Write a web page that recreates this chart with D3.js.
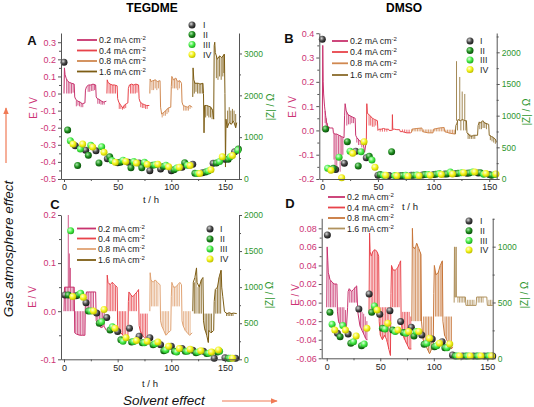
<!DOCTYPE html>
<html><head><meta charset="utf-8">
<script src="https://cdn.jsdelivr.net/npm/d3@7"></script>
<style>body{margin:0;background:#fff} svg{display:block;font-family:"Liberation Sans",Arial,sans-serif}</style>
</head><body><svg id="c" width="534" height="407"></svg>
<script>
// ---------------- DATA ----------------
const CURRENTS = ["0.2", "0.4", "0.8", "1.6"];
const SERIES = ["I", "II", "III", "IV"];
const T_TICKS = [0, 50, 100, 150];
const A_E_TICKS = [-0.5, -0.4, -0.3, -0.2, -0.1, 0, 0.1, 0.2, 0.3];
const A_Z_TICKS = [0, 1000, 2000, 3000];
const B_E_TICKS = [-0.2, -0.1, 0, 0.1, 0.2, 0.3, 0.4];
const B_Z_TICKS = [0, 500, 1000, 1500, 2000];
const C_E_TICKS = [-0.1, 0, 0.1, 0.2];
const C_Z_TICKS = [0, 500, 1000, 1500, 2000];
const D_E_TICKS = [-0.06, -0.04, -0.02, 0, 0.02, 0.04, 0.06, 0.08];
const D_Z_TICKS = [0, 500, 1000];

// Panel A (TEGDME) potential [t, E]; spikes [t, from, to]
const A02 = [[0,0.0],[0.4,0.15],[1,0.11],[2,0.09],[3,0.075],[5,0.065],[7,0.06],[9.5,0.055],[10,-0.02],[11,-0.035],[13,-0.045],[15,-0.05],[17,-0.06],[19.5,-0.055],[20,0.02],[21,0.04],[23,0.05],[25,0.05],[27,0.055],[29.5,0.05],[30,-0.02],[31,-0.03],[33,-0.035],[35,-0.045],[37,-0.05],[39.5,-0.045]];
const A02s = [[2.5,0.085,0.0],[4,0.07,0.0],[5.5,0.065,0.0],[7,0.06,0.0],[8.5,0.058,0.005],[11.5,-0.04,-0.075],[13,-0.045,-0.07],[14.5,-0.048,-0.075],[16,-0.055,-0.08],[17.5,-0.06,-0.08],[22.5,0.048,0.01],[24,0.05,0.01],[25.5,0.05,0.015],[27,0.055,0.015],[28.5,0.052,0.02],[31.5,-0.03,-0.06],[33,-0.035,-0.06],[34.5,-0.042,-0.065],[36,-0.048,-0.065],[37.5,-0.05,-0.065]];
const A04 = [[40,0.0],[40.3,0.08],[41,0.065],[43,0.055],[45,0.05],[47,0.05],[49.5,0.045],[50,-0.03],[51,-0.05],[53,-0.07],[55,-0.085],[56,-0.07],[58,-0.06],[59.5,-0.055],[60,0.03],[61,0.05],[63,0.055],[65,0.05],[67,0.055],[69.5,0.05],[70,-0.03],[71,-0.05],[73,-0.06],[75,-0.065],[77,-0.07],[79.5,-0.07]];
const A04s = [[42,0.06,0.0],[43.5,0.055,0.0],[45,0.05,0.0],[46.5,0.05,0.0],[48,0.048,0.0],[51.5,-0.055,-0.09],[53,-0.07,-0.09],[54.5,-0.08,-0.095],[56,-0.07,-0.09],[57.5,-0.062,-0.085],[62,0.052,0.0],[63.5,0.055,0.0],[65,0.05,0.0],[66.5,0.053,0.0],[68,0.055,0.005],[71.5,-0.052,-0.08],[73,-0.06,-0.085],[74.5,-0.065,-0.085],[76,-0.068,-0.09],[77.5,-0.07,-0.09]];
const A08 = [[80,0.0],[80.3,0.085],[81,0.07],[83,0.075],[85,0.08],[87,0.07],[89.5,0.075],[90,-0.08],[91,-0.12],[93,-0.11],[95,-0.1],[97,-0.085],[99.5,-0.08],[100,0.04],[100.5,0.1],[102,0.08],[104,0.09],[106,0.07],[108,0.075],[109.5,0.06],[110,-0.05],[111,-0.07],[113,-0.075],[115,-0.08],[117,-0.07],[119.5,-0.08]];
const A08s = [[82,0.07,0.02],[83.5,0.075,0.02],[85,0.08,0.03],[86.5,0.072,0.02],[88,0.072,0.03],[91.5,-0.12,-0.14],[93,-0.11,-0.13],[94.5,-0.1,-0.13],[96,-0.09,-0.12],[97.5,-0.085,-0.11],[101.5,0.085,0.03],[103,0.085,0.03],[104.5,0.09,0.03],[106,0.07,0.02],[107.5,0.075,0.03],[111.5,-0.072,-0.1],[113,-0.075,-0.1],[114.5,-0.08,-0.1],[116,-0.075,-0.1],[117.5,-0.07,-0.09]];
const A16 = [[120,-0.02],[120.3,0.15],[121,0.08],[122,0.06],[125,0.06],[127,0.055],[129.5,0.06],[130,0.0],[130.5,-0.23],[131,-0.07],[133,-0.07],[135,-0.075],[137,-0.08],[138.5,-0.1],[139.5,-0.15],[140,0.28],[140.5,0.3],[141,0.24],[143,0.2],[145,0.22],[147,0.21],[149.5,0.23],[150,0.0],[150.5,-0.43],[151,-0.15],[152,-0.2],[154,-0.17],[156,-0.18],[158,-0.16],[160,-0.2],[161,-0.17]];
const A16s = [[121.5,0.07,0.0],[123,0.06,0.01],[124.5,0.06,0.0],[126,0.055,0.0],[127.5,0.06,0.0],[129,0.06,0.0],[132,-0.07,-0.14],[133.5,-0.07,-0.13],[135,-0.075,-0.14],[136.5,-0.08,-0.14],[138,-0.09,-0.15],[142,0.22,0.09],[143.5,0.2,0.08],[145,0.22,0.1],[146.5,0.21,0.08],[148,0.22,0.1],[149,0.23,0.12],[152.5,-0.2,-0.1],[154,-0.17,-0.08],[155.5,-0.18,-0.1],[157,-0.17,-0.09],[158.5,-0.16,-0.1],[160,-0.2,-0.12]];
const A_ZI = [[0,2790],[10.5,795],[20.2,690],[29.8,676],[40.4,485],[50,390],[60,400],[70,380],[80,200],[90,240],[100,200],[110,280],[120,350],[129,150],[139,375],[150,470],[159,650]];
const A_ZII = [[3.4,1170],[12.7,320],[22.7,565],[32.6,385],[42.6,530],[52.5,400],[62.4,270],[72.5,270],[82.5,330],[92.5,300],[102.5,220],[112.5,390],[122,135],[132,170],[142,380],[153,470],[162.5,720]];
const A_ZIII = [[5.9,915],[15.2,715],[24.9,805],[35.1,770],[44.7,440],[55,450],[65,420],[75,400],[85,340],[95,330],[105,260],[115,330],[124.5,130],[134.5,190],[145,420],[155,530],[162,690]];
const A_ZIV = [[8.4,835],[17.4,835],[26.7,765],[37.3,640],[47.8,400],[57.5,420],[67.5,380],[77.5,350],[87.5,350],[97.5,290],[107.5,280],[117.5,320],[126.5,130],[137,220],[147.5,530],[157,560]];

// Panel B (DMSO)
const B02 = [[0,0.0],[0.4,0.35],[0.8,0.2],[1.2,0.15],[2,0.1],[3,0.06],[4,0.03],[5,0.015],[7,0.01],[9.5,0.01],[10,-0.01],[11,-0.015],[13,-0.015],[15,-0.02],[17,-0.025],[19.5,-0.03],[20,0.06],[20.5,0.11],[21.5,0.08],[23,0.065],[25,0.06],[27,0.055],[29.5,0.05],[30,-0.02],[31,-0.03],[33,-0.04],[35,-0.05],[37,-0.06],[38,-0.09],[39,-0.06]];
const B02s = [[2.5,0.08,0.03],[3.5,0.05,0.02],[4.5,0.03,0.01],[6,0.015,0.005],[10.5,-0.01,-0.12],[11.5,-0.015,-0.15],[13,-0.015,-0.17],[14.5,-0.02,-0.12],[16,-0.02,-0.17],[17.5,-0.025,-0.12],[18.5,-0.03,-0.1],[22,0.075,0.02],[23.5,0.065,0.025],[25,0.06,0.025],[26.5,0.058,0.03],[28,0.055,0.03],[31,-0.03,-0.05],[32.5,-0.035,-0.06],[34,-0.04,-0.06],[35.5,-0.05,-0.07]];
const B04 = [[39.5,-0.06],[40,0.11],[40.5,0.07],[42,0.065],[43,0.06],[45,0.05],[47,0.045],[49.5,0.04],[50,0.0],[51,0.005],[53,0.005],[55,0.008],[57,0.005],[59.5,0.005],[60,0.0],[62,0.0],[62.8,0.0],[63,0.065],[63.3,0.005],[65,0.005],[67,0.003],[69.5,0.003],[70,-0.005],[72,-0.005],[74,-0.008],[76,-0.01],[79.5,-0.01]];
const B04s = [[42,0.065,0.02],[43.5,0.058,0.02],[45,0.05,0.015],[46.5,0.045,0.015],[48,0.042,0.02],[52,0.005,-0.005],[54,0.007,-0.005],[56,0.006,-0.005],[58,0.005,-0.005],[72,-0.005,0.004],[74,-0.008,0.004],[76,-0.01,0.003],[78,-0.01,0.003]];
const B08 = [[80,-0.01],[80.5,0.005],[85,0.008],[89.5,0.01],[90,-0.005],[95,-0.01],[99.5,-0.01],[100,0.005],[105,0.01],[109.5,0.012],[110,-0.005],[115,-0.012],[119.5,-0.015]];
const B08s = [[81,0.006,-0.004],[82.5,0.007,-0.004],[84,0.008,-0.004],[85.5,0.008,-0.004],[87,0.009,-0.004],[88.5,0.01,-0.004],[91,-0.006,0.004],[92.5,-0.008,0.004],[94,-0.009,0.004],[95.5,-0.01,0.004],[97,-0.01,0.004],[98.5,-0.01,0.004],[101,0.007,-0.004],[102.5,0.008,-0.004],[104,0.01,-0.004],[105.5,0.01,-0.004],[107,0.011,-0.004],[108.5,0.012,-0.004],[111,-0.008,0.003],[112.5,-0.01,0.003],[114,-0.012,0.003],[115.5,-0.013,0.003],[117,-0.014,0.003],[118.5,-0.015,0.003]];
const B16 = [[119.5,-0.015],[120,0.02],[121,0.03],[122,0.045],[124,0.04],[126,0.045],[128,0.04],[129.5,0.04],[130,-0.01],[132,-0.02],[134,-0.025],[136,-0.02],[139.5,-0.02],[140,0.02],[141,0.035],[142,0.03],[144,0.04],[146,0.03],[149.5,0.025],[150,-0.02],[152,-0.025],[154,-0.03],[156,-0.04],[157,-0.05],[158,-0.03]];
const B16s = [[120.6,0.04,0.285],[123.5,0.04,0.22],[125.7,0.04,0.16],[128,0.04,0.15],[121.5,0.04,0.0],[124.5,0.04,0.0],[127,0.04,0.0],[129,0.04,0.0],[131,-0.01,-0.035],[132.5,-0.015,-0.035],[134,-0.02,-0.035],[135.5,-0.02,-0.035],[137,-0.02,-0.035],[141.5,0.035,0.005],[143,0.035,0.005],[144.5,0.04,0.01],[146,0.035,0.01],[147.5,0.03,0.005],[151,-0.02,-0.04],[152.5,-0.025,-0.045],[154,-0.03,-0.05],[155.5,-0.035,-0.055]];
const B_ZI = [[0,2205],[12,150],[19.8,250],[30,440],[39.5,335],[50,60],[60,55],[70,50],[80,60],[90,65],[100,70],[110,80],[120,85],[130,90],[140,95],[150,70]];
const B_ZII = [[3,790],[9.9,170],[22.5,590],[32.3,205],[42.2,360],[52,70],[62.3,430],[72,55],[82,60],[92,70],[102,75],[112,80],[122,90],[132,95],[142,100],[152,60]];
const B_ZIII = [[4.8,170],[15,345],[24.9,440],[34.8,430],[44.6,300],[55,60],[65,55],[75,60],[85,65],[95,70],[105,85],[115,110],[125,100],[135,110],[145,75],[155,70]];
const B_ZIV = [[7.8,140],[17.4,20],[27.3,405],[37.5,590],[47.3,185],[57,60],[67,50],[77,45],[87,50],[97,60],[107,70],[117,80],[127,100],[137,110],[147,85],[156,80]];

// Panel C (TEGDME)
const C02 = [[0,0.0],[0.5,0.05],[9.5,0.05],[10,-0.045],[12,-0.048],[15,-0.05],[17,-0.05],[19.5,-0.05],[20,0.03],[21,0.04],[23,0.04],[25,0.04],[27,0.04],[29.5,0.04],[30,-0.02],[31,-0.025],[33,-0.03],[35,-0.035],[37,-0.03],[39.5,-0.04]];
const C02s = [[1.5,0.05,0.0],[3,0.05,0.0],[4,0.05,0.2],[5,0.05,0.12],[6,0.05,0.09],[4.5,0.05,0.0],[6,0.05,0.0],[7.5,0.05,0.0],[9,0.05,0.0],[11,-0.045,0.0],[12.5,-0.048,0.0],[14,-0.05,0.0],[15.5,-0.05,0.0],[17,-0.05,0.0],[18.5,-0.05,0.0],[21.5,0.04,0.0],[23,0.04,0.0],[24.5,0.04,0.0],[26,0.04,0.0],[27.5,0.04,0.0],[31.5,-0.025,0.0],[33,-0.03,0.0],[34.5,-0.035,0.0],[36,-0.032,0.0],[37.5,-0.03,0.0]];
const C04 = [[40,0.0],[40.3,0.075],[41,0.06],[43,0.055],[45,0.06],[47,0.055],[49.5,0.05],[50,-0.03],[51,-0.04],[53,-0.045],[55,-0.05],[57,-0.055],[59.5,-0.06],[60,0.02],[60.5,0.04],[62,0.035],[64,0.03],[66,0.035],[68,0.04],[69.5,0.045],[70,-0.03],[71,-0.04],[73,-0.05],[75,-0.055],[77,-0.06],[79.5,-0.07]];
const C04s = [[42,0.058,0.0],[43.5,0.055,0.0],[45,0.06,0.0],[46.5,0.055,0.0],[48,0.052,0.0],[51.5,-0.042,0.0],[53,-0.045,0.0],[54.5,-0.05,0.0],[56,-0.052,0.0],[57.5,-0.056,0.0],[61.5,0.037,0.0],[63,0.033,0.0],[64.5,0.031,0.0],[66,0.035,0.0],[67.5,0.038,0.0],[71.5,-0.045,-0.005],[73,-0.05,-0.005],[74.5,-0.053,-0.005],[76,-0.057,-0.005],[77.5,-0.062,-0.005]];
const C08 = [[80,0.0],[80.3,0.08],[81,0.065],[83,0.06],[85,0.065],[87,0.06],[89.5,0.055],[90,-0.02],[91,-0.03],[93,-0.04],[95,-0.05],[97,-0.045],[99.5,-0.04],[100,0.03],[100.5,0.06],[102,0.05],[104,0.05],[106,0.055],[108,0.06],[109.5,0.055],[110,-0.02],[111,-0.03],[113,-0.04],[115,-0.045],[117,-0.05],[119.5,-0.045]];
const C08s = [[81.5,0.065,0.01],[83,0.06,0.01],[84.5,0.064,0.01],[86,0.063,0.01],[87.5,0.058,0.01],[91.5,-0.032,0.0],[93,-0.04,0.0],[94.5,-0.048,0.0],[96,-0.048,0.0],[97.5,-0.044,0.0],[101.5,0.052,0.01],[103,0.05,0.01],[104.5,0.051,0.01],[106,0.055,0.01],[107.5,0.058,0.01],[111.5,-0.032,0.0],[113,-0.04,0.0],[114.5,-0.044,0.0],[116,-0.048,0.0],[117.5,-0.05,0.0]];
const C16 = [[120,0.0],[120.5,0.06],[122,0.07],[123.5,0.09],[124,0.06],[126,0.05],[128,0.065],[129.5,0.07],[130,-0.02],[131,-0.035],[133,-0.05],[134.5,-0.065],[135,-0.04],[137,-0.045],[139.5,-0.04],[140,0.02],[141,0.045],[143,0.05],[145,0.075],[146.5,0.085],[147,0.05],[148,0.03],[149.5,0.0],[150,-0.002],[152,-0.005],[154,-0.003],[156,-0.005],[158,-0.004],[161,-0.005]];
const C16s = [[121.5,0.06,-0.005],[123,0.07,-0.005],[125,0.05,-0.005],[126.5,0.055,-0.005],[128,0.065,-0.005],[131.5,-0.04,-0.005],[133,-0.05,-0.005],[134.5,-0.065,-0.005],[136,-0.042,-0.005],[137.5,-0.045,-0.005],[141.5,0.045,-0.005],[143,0.05,-0.005],[144.5,0.07,-0.005],[146,0.085,-0.005],[151.5,-0.004,-0.01],[153,-0.004,-0.01],[154.5,-0.004,-0.01],[156,-0.004,-0.01],[157.5,-0.004,-0.01]];
const C_ZI = [[0.9,890],[11.2,880],[20.5,785],[30.4,640],[39.8,580],[50,385],[61,430],[70,320],[80,300],[90,200],[100,180],[110,150],[120,125],[130,110],[140,15],[150,20],[160,15]];
const C_ZII = [[4,890],[13.3,890],[22.7,670],[32.9,500],[42.9,405],[53,270],[63,240],[73,230],[83,200],[93,120],[103,110],[113,110],[123,90],[133,80],[143,100],[153,15]];
const C_ZIII = [[6.2,1780],[15.5,915],[25,670],[35,520],[45,450],[55,250],[65,245],[75,230],[85,215],[95,130],[105,100],[115,110],[125,100],[135,85],[145,110],[155,15]];
const C_ZIV = [[8.1,870],[18,860],[27.5,670],[37.3,690],[47.5,430],[57.8,300],[67.5,260],[77.5,250],[87.5,240],[97.5,180],[107.5,150],[117.5,140],[127.5,120],[137.5,100],[144,130],[157,15]];

// Panel D (DMSO)
const D02 = [[0,-0.005],[0.4,0.06],[1,0.045],[1.5,0.032],[3,0.025],[5,0.022],[7,0.02],[9.5,0.02],[10,-0.01],[11,-0.02],[13,-0.025],[15,-0.028],[17,-0.03],[18.5,-0.025],[19.5,-0.005],[20,0.012],[21,0.015],[23,0.012],[25,0.014],[27,0.017],[28,0.018],[29,-0.01],[31,-0.025],[33,-0.03],[35,-0.035],[37,-0.04],[38,-0.04]];
const D02s = [[2,0.03,-0.005],[3.5,0.024,-0.005],[5,0.022,-0.005],[6.5,0.021,-0.005],[8,0.02,-0.005],[11.5,-0.022,-0.005],[13,-0.024,-0.005],[14.5,-0.027,-0.005],[16,-0.029,-0.005],[17.5,-0.03,-0.008],[21.5,0.014,0.0],[23,0.012,0.0],[24.5,0.013,0.0],[26,0.016,0.0],[27.5,0.017,0.0],[31.5,-0.026,-0.01],[33,-0.03,-0.01],[34.5,-0.034,-0.012],[36,-0.038,-0.015],[37.5,-0.04,-0.02]];
const D04 = [[39.5,-0.01],[40,0.075],[40.5,0.055],[41.5,0.05],[43,0.055],[45,0.057],[47,0.055],[48.5,0.05],[49,-0.02],[50,-0.035],[52,-0.04],[54,-0.035],[56,-0.04],[58,-0.05],[59.5,-0.057],[60,0.01],[60.5,0.04],[62,0.035],[64,0.035],[66,0.037],[68,0.042],[69,0.045],[69.5,-0.02],[71,-0.035],[73,-0.04],[75,-0.045],[77,-0.05],[79,-0.05]];
const D04s = [[41.5,0.05,-0.01],[43,0.055,-0.01],[44.5,0.057,-0.01],[46,0.056,-0.01],[47.5,0.053,-0.01],[50.5,-0.036,-0.005],[52,-0.04,-0.005],[53.5,-0.037,-0.005],[55,-0.037,-0.005],[56.5,-0.042,-0.005],[58,-0.05,-0.005],[61.5,0.036,-0.005],[63,0.035,-0.005],[64.5,0.035,-0.005],[66,0.037,-0.005],[67.5,0.041,-0.005],[71,-0.035,-0.01],[72.5,-0.04,-0.01],[74,-0.043,-0.01],[75.5,-0.046,-0.01],[77,-0.05,-0.01],[78.5,-0.05,-0.015]];
const D08 = [[79.5,-0.02],[80,0.08],[80.5,0.06],[82,0.058],[83,0.06],[84,0.064],[86,0.058],[88,0.052],[88.5,-0.02],[90,-0.04],[92,-0.045],[94,-0.05],[96,-0.055],[98,-0.05],[99.5,-0.045],[100,0.01],[100.5,0.04],[102,0.03],[104,0.032],[106,0.04],[108,0.045],[108.5,-0.02],[110,-0.035],[112,-0.04],[114,-0.045],[116,-0.05],[118,-0.048]];
const D08s = [[81.5,0.06,-0.02],[83,0.06,-0.02],[84.5,0.063,-0.02],[86,0.058,-0.02],[87.5,0.054,-0.02],[90.5,-0.04,-0.015],[92,-0.045,-0.015],[93.5,-0.048,-0.015],[95,-0.052,-0.015],[96.5,-0.054,-0.015],[98,-0.05,-0.015],[101.5,0.032,-0.015],[103,0.031,-0.015],[104.5,0.034,-0.015],[106,0.04,-0.015],[107.5,0.044,-0.015],[110.5,-0.036,-0.015],[112,-0.04,-0.015],[113.5,-0.044,-0.015],[115,-0.047,-0.015],[116.5,-0.05,-0.015]];
const D16 = [[119,0.0],[119.3,0.06],[119.6,0.006],[120.5,0.006],[120.8,0.06],[121.1,0.006],[129.5,0.006],[130,-0.003],[139.5,-0.003],[140,0.006],[149.5,0.006],[150,-0.003],[158,-0.003]];
const D16s = [[122.5,0.006,0.0],[124,0.006,0.0],[125.5,0.006,0.0],[127,0.006,0.0],[128.5,0.006,0.0],[131.5,-0.003,0.003],[133,-0.003,0.003],[134.5,-0.003,0.003],[136,-0.003,0.003],[137.5,-0.003,0.003],[141.5,0.006,0.0],[143,0.006,0.0],[144.5,0.006,0.0],[146,0.006,0.0],[151.5,-0.003,0.003],[153,-0.003,0.003],[154.5,-0.003,0.003],[156,-0.003,0.003]];
const D_ZI = [[0.6,1105],[10,224],[20,218],[30,442],[39.6,576],[49.5,394],[59,427],[69,329],[79,278],[88.8,209],[98.5,173],[107.8,149],[117.4,30],[127,20],[137,20],[147,20],[155,20]];
const D_ZII = [[3,412],[12.5,194],[22.5,134],[32.5,113],[42,412],[52,269],[61.6,254],[71.5,230],[81.5,200],[91,125],[100.6,104],[110.3,95],[120,20],[130,20],[140,20],[150,20]];
const D_ZIII = [[5,305],[15,293],[25,149],[35,128],[44.5,469],[54.5,263],[64,239],[74,224],[83.5,239],[93.5,134],[102.8,113],[112.4,95],[122,20],[132,20],[142,20],[152,20]];
const D_ZIV = [[7.5,254],[17.5,254],[27.5,200],[37.5,269],[47,433],[57,314],[66.5,254],[76.5,239],[86,239],[96,179],[105.3,134],[114.9,128],[124,20],[134,20],[144,20],[154,20]];

// ---------------- DRAW ----------------
const svg = d3.select('#c');
const defs = svg.append('defs');
const BALL = [["#d8d8d8","#4a4a4a","#1a1a1a"],["#a8e8a8","#1f8f1f","#0b500b"],["#e0ffe0","#48ee48","#20a820"],["#ffffd8","#f4f41c","#c0c000"]];
BALL.forEach((c,i)=>{
  const gr = defs.append('radialGradient').attr('id','ball'+i).attr('cx','38%').attr('cy','35%').attr('r','65%');
  gr.append('stop').attr('offset','0%').attr('stop-color',c[0]);
  gr.append('stop').attr('offset','55%').attr('stop-color',c[1]);
  gr.append('stop').attr('offset','100%').attr('stop-color',c[2]);
});
const ECOL = "#cc3374", ZCOL = "#2e962e", AXC = "#555";
const C02c = "#c8336e", C04c = "#e8434a";
const MR = 3.5;

function fmtE(dec){ return d => (+d).toFixed(dec); }
function styleAxis(g, col, fs){
  g.selectAll('.domain').attr('stroke',AXC);
  g.selectAll('.tick line').attr('stroke',AXC);
  g.selectAll('.tick text').attr('fill',col).attr('font-size',fs||9).attr('font-family','"Liberation Sans",Arial,sans-serif');
}
function mids(arr){ const o=[]; for(let i=0;i<arr.length-1;i++) o.push((arr[i]+arr[i+1])/2); return o; }

function panel(cfg){
  const x = d3.scaleLinear().domain(cfg.xd).range([cfg.x0,cfg.x1]);
  const yE = d3.scaleLinear().domain(cfg.ed).range([cfg.yb,cfg.yt]);
  const yZ = d3.scaleLinear().domain(cfg.zd).range([cfg.yb,cfg.yt]);
  const id='clip'+cfg.name;
  defs.append('clipPath').attr('id',id).append('rect').attr('x',cfg.x0).attr('y',cfg.yt-4).attr('width',cfg.x1-cfg.x0).attr('height',cfg.yb-cfg.yt+4);
  const g = svg.append('g').attr('clip-path',`url(#${id})`);
  const line = d3.line().x(d=>x(d[0])).y(d=>yE(d[1]));
  cfg.series.forEach((s,i)=>{
    const col = cfg.colors[i];
    g.append('path').datum(s[0]).attr('d',line).attr('fill','none').attr('stroke',col).attr('stroke-width',1);
    g.selectAll(null).data(s[1]).enter().append('line')
      .attr('x1',d=>x(d[0])).attr('x2',d=>x(d[0])).attr('y1',d=>yE(d[1])).attr('y2',d=>yE(d[2]))
      .attr('stroke',col).attr('stroke-width',0.8);
  });
  cfg.markers.forEach((m,i)=>{
    svg.append('g').selectAll('circle').data(m).enter().append('circle')
      .attr('cx',d=>x(d[0])).attr('cy',d=>yZ(d[1])).attr('r',MR).attr('fill',`url(#ball${i})`);
  });
  // axes
  const gb = svg.append('g').attr('transform',`translate(0,${cfg.yb})`).call(d3.axisBottom(x).tickValues(T_TICKS).tickSize(3).tickSizeOuter(0).tickPadding(2));
  styleAxis(gb,'#222');
  const gbm = svg.append('g').attr('transform',`translate(0,${cfg.yb})`).call(d3.axisBottom(x).tickValues(mids(T_TICKS)).tickSize(2).tickFormat(''));
  gbm.select('.domain').remove(); styleAxis(gbm,'#222');
  const gl = svg.append('g').attr('transform',`translate(${cfg.x0},0)`).call(d3.axisLeft(yE).tickValues(cfg.eT).tickSize(3).tickSizeOuter(0).tickPadding(2).tickFormat(fmtE(cfg.dec)));
  styleAxis(gl,ECOL);
  const glm = svg.append('g').attr('transform',`translate(${cfg.x0},0)`).call(d3.axisLeft(yE).tickValues(mids(cfg.eT)).tickSize(2).tickFormat(''));
  glm.select('.domain').remove(); styleAxis(glm,ECOL);
  const gr = svg.append('g').attr('transform',`translate(${cfg.x1},0)`).call(d3.axisRight(yZ).tickValues(cfg.zT).tickSize(3).tickSizeOuter(0).tickPadding(2).tickFormat(d3.format('d')));
  styleAxis(gr,ZCOL,8.5);
  const zm = mids(cfg.zT); if (cfg.zT[cfg.zT.length-1]+ (cfg.zT[1]-cfg.zT[0])/2 < cfg.zd[1]) zm.push(cfg.zT[cfg.zT.length-1]+(cfg.zT[1]-cfg.zT[0])/2);
  const grm = svg.append('g').attr('transform',`translate(${cfg.x1},0)`).call(d3.axisRight(yZ).tickValues(zm).tickSize(2).tickFormat(''));
  grm.select('.domain').remove(); styleAxis(grm,ZCOL);
  // axis titles
  svg.append('text').attr('transform',`translate(${cfg.eLab[0]},${cfg.eLab[1]}) rotate(-90)`).attr('text-anchor','middle').attr('dy','0.35em')
    .attr('font-size',10).attr('fill',ECOL).text('E / V');
  svg.append('text').attr('transform',`translate(${cfg.zLab[0]},${cfg.zLab[1]}) rotate(-90)`).attr('text-anchor','middle').attr('dy','0.35em')
    .attr('font-size',10).attr('fill',ZCOL).text('|Z| / Ω');
  svg.append('text').attr('x',cfg.letter[0]).attr('y',cfg.letter[1]).attr('text-anchor','middle').attr('dy','0.35em')
    .attr('font-size',13).attr('font-weight','bold').attr('fill','#111').text(cfg.name);
  // legends
  CURRENTS.forEach((c,i)=>{
    const yy = cfg.lg.rows[i];
    svg.append('line').attr('x1',cfg.lg.x0).attr('x2',cfg.lg.x1).attr('y1',yy).attr('y2',yy).attr('stroke',cfg.colors[i]).attr('stroke-width',1.8);
    const t = svg.append('text').attr('x',cfg.lg.tx).attr('y',yy).attr('dy','0.35em').attr('font-size',8.8).attr('fill','#222');
    t.append('tspan').text(c + ' mA cm');
    t.append('tspan').attr('dy','-0.45em').attr('font-size',6).text('-2');
  });
  SERIES.forEach((s,i)=>{
    const yy = cfg.mg.rows[i];
    svg.append('circle').attr('cx',cfg.mg.x).attr('cy',yy).attr('r',MR).attr('fill',`url(#ball${i})`);
    svg.append('text').attr('x',cfg.mg.tx).attr('y',yy).attr('dy','0.35em').attr('font-size',8.8).attr('fill','#222').text(s);
  });
}

panel({name:'A', xd:[-2.8,163.1], x0:61, x1:239, yt:33, yb:179, ed:[-0.5,0.354], zd:[0,3490], eT:A_E_TICKS, zT:A_Z_TICKS, dec:1,
  colors:[C02c,C04c,"#d08850","#7d5d14"],
  series:[[A02,A02s],[A04,A04s],[A08,A08s],[A16,A16s]], markers:[A_ZI,A_ZII,A_ZIII,A_ZIV],
  eLab:[33,108], zLab:[270,107], letter:[32,40],
  lg:{x0:77,x1:97,tx:99,rows:[40,50.5,61,71.5]}, mg:{x:192,tx:203,rows:[25,34.5,44.5,54.5]}});
panel({name:'B', xd:[-2.7,156.7], x0:319.3, x1:496.7, yt:33, yb:179, ed:[-0.2,0.401], zd:[0,2305], eT:B_E_TICKS, zT:B_Z_TICKS, dec:1,
  colors:[C02c,C04c,"#d08850","#8a6a2a"],
  series:[[B02,B02s],[B04,B04s],[B08,B08s],[B16,B16s]], markers:[B_ZI,B_ZII,B_ZIII,B_ZIV],
  eLab:[292,107], zLab:[526,112], letter:[289,38],
  lg:{x0:332,x1:348,tx:350,rows:[41,52,63.3,75]}, mg:{x:470,tx:480,rows:[41,50.5,60,69.5]}});
panel({name:'C', xd:[-2.8,163.1], x0:61, x1:239, yt:215, yb:359.3, ed:[-0.1,0.2], zd:[0,2000], eT:C_E_TICKS, zT:C_Z_TICKS, dec:1,
  colors:[C02c,C04c,"#e0a272","#7d5d14"],
  series:[[C02,C02s],[C04,C04s],[C08,C08s],[C16,C16s]], markers:[C_ZI,C_ZII,C_ZIII,C_ZIV],
  eLab:[32,297], zLab:[269,295], letter:[55,204],
  lg:{x0:77,x1:96,tx:98,rows:[228.5,238.5,249,260]}, mg:{x:210,tx:220,rows:[229,239,249,259]}});
panel({name:'D', xd:[-4.7,155], x0:321.7, x1:492.7, yt:218.3, yb:358.3, ed:[-0.06,0.0908], zd:[0,1254], eT:D_E_TICKS, zT:D_Z_TICKS, dec:2,
  colors:[C02c,C04c,"#c8763a","#b0925e"],
  series:[[D02,D02s],[D04,D04s],[D08,D08s],[D16,D16s]], markers:[D_ZI,D_ZII,D_ZIII,D_ZIV],
  eLab:[295,295], zLab:[524,295], letter:[290,203],
  lg:{x0:328,x1:345,tx:347,rows:[197,207.5,218,228.5]}, mg:{x:469,tx:480,rows:[221,230.7,240.5,250]}});

// titles and annotations
svg.append('text').attr('x',152).attr('y',12).attr('text-anchor','middle').attr('font-size',12).attr('font-weight','bold').text('TEGDME');
svg.append('text').attr('x',404).attr('y',12).attr('text-anchor','middle').attr('font-size',12).attr('font-weight','bold').text('DMSO');
[[151,200],[150,384],[410,207]].forEach(p=>{
  svg.append('text').attr('x',p[0]).attr('y',p[1]).attr('text-anchor','middle').attr('dy','0.35em').attr('font-size',9.5).attr('fill','#222').text('t / h');
});
svg.append('text').attr('transform','translate(12.5,249) rotate(-90)').attr('text-anchor','middle').attr('font-size',13.5).attr('font-style','italic').attr('fill','#111').text('Gas atmosphere effect');
svg.append('text').attr('x',123).attr('y',405).attr('font-size',13.5).attr('font-style','italic').attr('fill','#111').text('Solvent effect');
const ARC = "#f07a55";
defs.append('marker').attr('id','ah').attr('viewBox','0 0 10 10').attr('refX',9).attr('refY',5).attr('markerWidth',6).attr('markerHeight',6).attr('orient','auto')
  .append('path').attr('d','M0,1 L10,5 L0,9 z').attr('fill',ARC);
svg.append('line').attr('x1',6).attr('y1',163).attr('x2',6).attr('y2',108).attr('stroke',ARC).attr('stroke-width',1.2).attr('marker-end','url(#ah)');
svg.append('line').attr('x1',222).attr('y1',401).attr('x2',277).attr('y2',401).attr('stroke',ARC).attr('stroke-width',1.2).attr('marker-end','url(#ah)');
</script></body></html>
